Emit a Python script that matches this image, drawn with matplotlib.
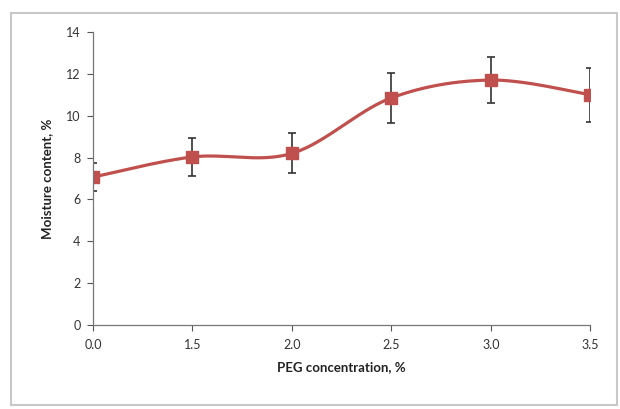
import numpy as np
import matplotlib
matplotlib.use("Agg")
import matplotlib.pyplot as plt
from matplotlib.patches import Rectangle

# === DATA ===
peg_labels = ["0.0", "1.5", "2.0", "2.5", "3.0", "3.5"]
moisture = [7.07, 8.03, 8.2, 10.85, 11.7, 11.0]
moisture_err = [0.65, 0.9, 0.95, 1.2, 1.1, 1.3]

plt.rcParams["font.family"] = ["Lato", "DejaVu Sans"]


def catmull_rom(x, y, n=40):
    # Excel-style smoothed line through the points
    px = np.concatenate([[x[0]], x, [x[-1]]])
    py = np.concatenate([[y[0]], y, [y[-1]]])
    xs, ys = [], []
    t = np.linspace(0, 1, n)
    for i in range(1, len(px) - 2):
        p0 = np.array([px[i], py[i]])
        p3 = np.array([px[i + 1], py[i + 1]])
        p1 = p0 + (np.array([px[i + 1], py[i + 1]]) - np.array([px[i - 1], py[i - 1]])) / 6
        p2 = p3 - (np.array([px[i + 2], py[i + 2]]) - np.array([px[i], py[i]])) / 6
        b = ((1 - t) ** 3)[:, None] * p0 + (3 * (1 - t) ** 2 * t)[:, None] * p1 \
            + (3 * (1 - t) * t ** 2)[:, None] * p2 + (t ** 3)[:, None] * p3
        xs.extend(b[:, 0])
        ys.extend(b[:, 1])
    return np.array(xs), np.array(ys)


x = np.arange(len(peg_labels), dtype=float)
sx, sy = catmull_rom(x, np.array(moisture))

fig = plt.figure(figsize=(6.2, 4.09), dpi=100)
fig.patches.append(Rectangle((0.017, 0.01), 0.978, 0.958, transform=fig.transFigure,
                             fill=False, edgecolor="#c8c8c8", linewidth=1.5))
ax = fig.add_axes([0.15, 0.205, 0.802, 0.717])

red = "#C0504D"
ax.plot(sx, sy, color=red, linewidth=2.3, zorder=2)
ax.errorbar(x, moisture, yerr=moisture_err, fmt="none", ecolor="#333333",
            elinewidth=1.2, capsize=3, capthick=1.2, zorder=3)
ax.plot(x, moisture, "s", color=red, markersize=9, zorder=4)

ax.set_xlim(0, len(peg_labels) - 1)
ax.set_ylim(0, 14)
ax.set_yticks(range(0, 15, 2))
ax.set_xticks(x)
ax.set_xticklabels(peg_labels)
ax.tick_params(axis="both", direction="out", length=4, width=0.8, colors="#555555",
               labelsize=9, labelcolor="#333333")
ax.tick_params(axis="x", pad=6)
ax.tick_params(axis="y", pad=5)
for s in ["top", "right"]:
    ax.spines[s].set_visible(False)
for s in ["left", "bottom"]:
    ax.spines[s].set_color("#777777")
    ax.spines[s].set_linewidth(0.9)
ax.spines["left"].set_zorder(5)

ax.set_xlabel("PEG concentration, %", fontsize=9.5, fontweight="bold", color="#222222", labelpad=7)
ax.set_ylabel("Moisture content, %", fontsize=9.5, fontweight="bold", color="#222222", labelpad=9)

fig.savefig("out.png", dpi=100)
